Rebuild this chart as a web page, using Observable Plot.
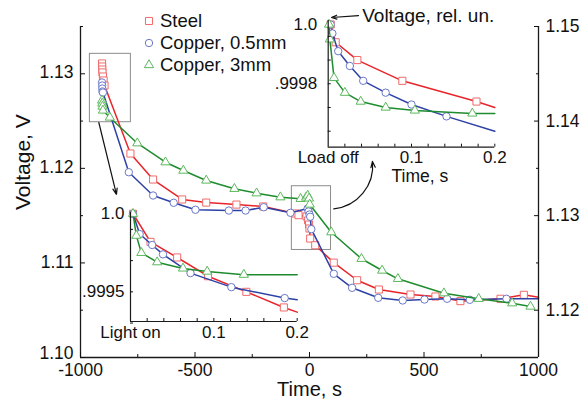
<!DOCTYPE html>
<html><head><meta charset="utf-8">
<script src="https://cdn.jsdelivr.net/npm/d3@7"></script>
<script src="https://cdn.jsdelivr.net/npm/@observablehq/plot@0.6"></script>
<style>
body{margin:0;background:#fff;}
#wrap{position:relative;width:582px;height:400px;font-family:"Liberation Sans",Arial,sans-serif;color:#111;}
#wrap svg.plt{position:absolute;left:0;top:0;}
.leg{position:absolute;display:flex;align-items:center;gap:3px;font-size:18.5px;white-space:nowrap;height:22px;}
</style></head><body><div id="wrap"></div>
<script>
// ---------- series ----------
const seriesNames = ["Steel", "Copper, 0.5mm", "Copper, 3mm"];
const lineColors = ["#e8242a", "#2e42a6", "#1e8c2e"];
const markColors = ["#f06a6a", "#6a78c8", "#5cb85c"];
const symbols = ["square", "circle", "triangle"];
const symbolR = [4, 3.7, 3.4];

// main chart: time (s), voltage (V, left-axis scale)
const steelT = [-906,-905.5,-905,-904,-902,-899,-895,-782,-683,-556,-451,-319,-202,-61,-48,-13,-6,-2,0,3,25,106,208,303,441,550,659,834,936,1000];
const steelV = [1.13109,1.13077,1.13045,1.13014,1.12971,1.12929,1.12876,1.12157,1.11882,1.11671,1.11638,1.11617,1.11597,1.11523,1.11505,1.11491,1.11449,1.11406,1.11364,1.11258,1.11187,1.11003,1.10817,1.10719,1.10666,1.10645,1.10596,1.10621,1.10663,1.10638];
const cu05T = [-906,-905.5,-905,-904,-902,-789,-683,-593,-498,-352,-279,-200,-83,-8,-4,0,3,8,106,186,300,407,502,601,700,860,1000];
const cu05V = [1.12908,1.12876,1.12844,1.12813,1.12802,1.11959,1.11713,1.11636,1.11562,1.11554,1.11554,1.11589,1.11530,1.11576,1.11544,1.11512,1.11488,1.11357,1.10885,1.10737,1.10631,1.10603,1.10613,1.10621,1.10610,1.10621,1.10621];
const cu3T = [-906,-905,-904,-902,-872,-752,-629,-551,-451,-328,-231,-127,-39,-15,-8,-2,1,95,227,317,386,587,739,885,965];
const cu3V = [1.12718,1.12686,1.12654,1.12612,1.12538,1.12266,1.12065,1.11977,1.11872,1.11784,1.11737,1.11695,1.11678,1.11692,1.11713,1.11682,1.11618,1.11325,1.11044,1.10920,1.10832,1.10680,1.10621,1.10574,1.10539];

// inset "Light on": time (s), relative voltage
const lightSteelT = [0.003,0.024,0.056,0.093,0.139,0.184,0.2];
const lightSteelV = [1.0,0.99982,0.99972,0.99960,0.99950,0.99940,0.99937];
const lightCu05T = [0.003,0.011,0.026,0.039,0.072,0.121,0.185,0.2];
const lightCu05V = [1.0,0.99987,0.99980,0.99974,0.99962,0.99953,0.99946,0.99945];
const lightCu3T = [0.003,0.007,0.013,0.032,0.063,0.092,0.136,0.2];
const lightCu3V = [1.0,0.99986,0.99975,0.99969,0.99965,0.99963,0.99961,0.99961];

// inset "Load off": time (s), relative voltage
const loadSteelT = [0.003,0.009,0.035,0.089,0.178,0.2];
const loadSteelV = [1.0,0.99994,0.99988,0.99981,0.99974,0.99972];
const loadCu05T = [0.003,0.005,0.012,0.026,0.042,0.069,0.1,0.142,0.2];
const loadCu05V = [1.0,0.99997,0.99991,0.99986,0.99981,0.99977,0.99973,0.99969,0.99964];
const loadCu3T = [0.001,0.002,0.007,0.020,0.039,0.069,0.104,0.173,0.2];
const loadCu3V = [1.0,0.99995,0.99982,0.99977,0.99974,0.99972,0.99971,0.99970,0.99970];

// ---------- axes / ticks ----------
const xDomain = [-1000, 1000];
const yDomain = [1.10, 1.135];
const xMajor = [-1000, -500, 0, 500, 1000];
const xMinor = [-750, -250, 250, 750];
const yLeftMajor = [1.10, 1.11, 1.12, 1.13];
const yLeftMinor = [1.105, 1.115, 1.125, 1.135];
const rightOffset = 0.015;               // right-axis value = left value + offset
const yRightMajor = [1.105, 1.115, 1.125, 1.135];
const yRightLabels = ["1.12", "1.13", "1.14", "1.15"];
const yRightMinor = [1.11, 1.12, 1.13];

const insetXDomain = [0, 0.2];
const insetXLabelTicks = [0, 0.1, 0.2];
const lightXLabels = ["Light on", "0.1", "0.2"];
const loadXLabels = ["Load off", "0.1", "0.2"];
const insetXMinor = [0.02,0.04,0.06,0.08,0.1,0.12,0.14,0.16,0.18,0.2];
const lightYDomain = [0.99931, 1.00001];
const lightYLabelTicks = [1.0, 0.9995];
const lightYLabels = ["1.0", ".9995"];
const lightYMinor = [0.9993, 0.9995, 0.9997, 0.9999];
const loadYDomain = [0.999586, 1.0000135];
const loadYLabelTicks = [1.0, 0.9998];
const loadYLabels = ["1.0", ".9998"];
const loadYMinor = [0.99964, 0.99972, 0.9998, 0.99988, 0.99996];

// ---------- annotations ----------
const boxes = [{t1:-959,t2:-780,v1:1.12488,v2:1.13211},{t1:-77,t2:94,v1:1.11137,v2:1.11811}];
const straightArrow = [{t1:-920,v1:1.12485,t2:-843,v2:1.11724}];
const curvedArrow = [{t1:106,v1:1.11572,t2:275,v2:1.12073}];
const relArrow = [{t1:0.0364,v1:1.00003,t2:0.004,v2:1.0000236}];
const relText = [{t:0.0408,v:1.00003,label:"Voltage, rel. un."}];

// ---------- helpers ----------
const zip = (T, V) => T.map((t, i) => ({t, v: V[i]}));
const mainData = [zip(steelT, steelV), zip(cu05T, cu05V), zip(cu3T, cu3V)];
const lightData = [zip(lightSteelT, lightSteelV), zip(lightCu05T, lightCu05V), zip(lightCu3T, lightCu3V)];
const loadData = [zip(loadSteelT, loadSteelV), zip(loadCu05T, loadCu05V), zip(loadCu3T, loadCu3V)];
const order = [0, 1, 2];
const FONT = "Liberation Sans, Arial, sans-serif";
const AX = "#1a1a1a";

function seriesMarks(data, xmax, sw) {
  const m = [];
  for (const i of order) {
    m.push(Plot.line(data[i], {x: "t", y: "v", stroke: lineColors[i], strokeWidth: sw}));
    m.push(Plot.dot(data[i].filter(d => d.t < xmax - 1e-9), {x: "t", y: "v", symbol: symbols[i], r: symbolR[i], stroke: markColors[i], fill: "white", strokeWidth: 1}));
  }
  return m;
}
const blank = () => "";
const fmt2 = d => d.toFixed(2);

// ---------- main plot ----------
const main = Plot.plot({
  width: 582, height: 400,
  marginLeft: 80, marginRight: 44, marginTop: 26, marginBottom: 43,
  x: {domain: xDomain, label: null},
  y: {domain: yDomain, label: null},
  style: {fontFamily: FONT, fontSize: "17.5px", color: "#111", background: "white", overflow: "visible"},
  marks: [
    Plot.rect(boxes, {x1: "t1", x2: "t2", y1: "v1", y2: "v2", fill: "none", stroke: "#8c8c8c", strokeWidth: 1}),
    ...seriesMarks(mainData, xDomain[1], 1.5),
    Plot.ruleX([xDomain[0], xDomain[1]], {stroke: AX, strokeWidth: 1.3}),
    Plot.ruleY([yDomain[0]], {stroke: AX, strokeWidth: 1.3}),
    Plot.axisX({ticks: xMajor, tickSize: 0, tickPadding: 6, tickFormat: d => String(d), label: null}),
    Plot.axisX({ticks: xMajor, tickSize: -5, tickFormat: blank, label: null}),
    Plot.axisX({ticks: xMinor, tickSize: -3, tickFormat: blank, label: null}),
    Plot.axisY({anchor: "left", ticks: yLeftMajor.slice(1), tickSize: 0, tickPadding: 7, dy: -1, tickFormat: fmt2, label: null}),
    Plot.axisY({anchor: "left", ticks: yLeftMajor.slice(0, 1), tickSize: 0, tickPadding: 7, dy: -4.5, tickFormat: fmt2, label: null}),
    Plot.axisY({anchor: "left", ticks: yLeftMajor, tickSize: -5, tickFormat: blank, label: null}),
    Plot.axisY({anchor: "left", ticks: yLeftMinor, tickSize: -3, tickFormat: blank, label: null}),
    Plot.axisY({anchor: "right", ticks: yRightMajor, tickSize: 0, tickPadding: 7, tickFormat: d => yRightLabels[yRightMajor.indexOf(d)], label: null}),
    Plot.axisY({anchor: "right", ticks: yRightMajor, tickSize: -5, tickFormat: blank, label: null}),
    Plot.axisY({anchor: "right", ticks: yRightMinor, tickSize: -3, tickFormat: blank, label: null}),
    Plot.arrow(straightArrow, {x1: "t1", y1: "v1", x2: "t2", y2: "v2", stroke: "#111", strokeWidth: 1.2, headLength: 8, headAngle: 40}),
    Plot.arrow(curvedArrow, {x1: "t1", y1: "v1", x2: "t2", y2: "v2", bend: -45, stroke: "#111", strokeWidth: 1.2, headLength: 8, headAngle: 40}),
    Plot.text(["Time, s"], {frameAnchor: "bottom", dy: 38.5, fontSize: 20}),
    Plot.text(["Voltage, V"], {frameAnchor: "left", dx: -57, dy: 18, rotate: -90, fontSize: 21})
  ]
});
main.classList.add("plt");

function inset(data, ml, mr, mt, mb, yDom, yLabTicks, yLabs, yMinor, xLabs, ypad, xpad, extra) {
  const p = Plot.plot({
    width: 582, height: 400,
    marginLeft: ml, marginRight: mr, marginTop: mt, marginBottom: mb,
    x: {domain: insetXDomain, label: null},
    y: {domain: yDom, label: null},
    style: {fontFamily: FONT, fontSize: "17px", color: "#111", background: "transparent", overflow: "visible"},
    marks: [
      ...seriesMarks(data, insetXDomain[1], 1.5),
      Plot.ruleX([insetXDomain[0]], {stroke: AX, strokeWidth: 1.2}),
      Plot.ruleY([yDom[0]], {stroke: AX, strokeWidth: 1.2}),
      Plot.axisX({ticks: insetXLabelTicks, tickSize: 0, tickPadding: xpad, tickFormat: d => xLabs[insetXLabelTicks.indexOf(d)], label: null}),
      Plot.axisX({ticks: insetXMinor, tickSize: -3, tickFormat: blank, label: null}),
      Plot.axisY({ticks: yLabTicks, tickSize: 0, tickPadding: ypad, tickFormat: d => yLabs[yLabTicks.indexOf(d)], label: null}),
      Plot.axisY({ticks: yMinor, tickSize: -3, tickFormat: blank, label: null}),
      ...extra
    ]
  });
  p.classList.add("plt");
  return p;
}

const light = inset(lightData, 130, 285.3, 211.7, 79, lightYDomain, lightYLabelTicks, lightYLabels, lightYMinor, lightXLabels, 6, 4, []);
const load = inset(loadData, 327.7, 87.7, 20, 253.3, loadYDomain, loadYLabelTicks, loadYLabels, loadYMinor, loadXLabels, 11, 4, [
  Plot.text(["Time, s"], {x: 0.11, frameAnchor: "bottom", dy: 35, fontSize: 17.5}),
  Plot.arrow(relArrow, {x1: "t1", y1: "v1", x2: "t2", y2: "v2", stroke: "#111", strokeWidth: 1.2, headLength: 7, headAngle: 40}),
  Plot.text(relText, {x: "t", y: "v", text: "label", textAnchor: "start", fontSize: 19})
]);

const wrap = document.getElementById("wrap");
wrap.append(main, light, load);

// legend (inside plot area, top-left)
const legendCY = [20.7, 43.3, 65];
seriesNames.forEach((name, i) => {
  const row = document.createElement("div");
  row.className = "leg";
  row.style.left = "141px";
  row.style.top = (legendCY[i] - 11) + "px";
  const sym = d3.create("svg").attr("width", 16).attr("height", 16);
  const size = Math.PI * symbolR[i] * symbolR[i];
  const symType = {square: d3.symbolSquare, circle: d3.symbolCircle, triangle: d3.symbolTriangle}[symbols[i]];
  sym.append("path").attr("transform", "translate(8,8)").attr("d", d3.symbol(symType, size)())
    .attr("fill", "white").attr("stroke", markColors[i]).attr("stroke-width", 1);
  row.append(sym.node());
  const tx = document.createElement("span");
  tx.textContent = name;
  row.append(tx);
  wrap.append(row);
});
</script>
</body></html>
